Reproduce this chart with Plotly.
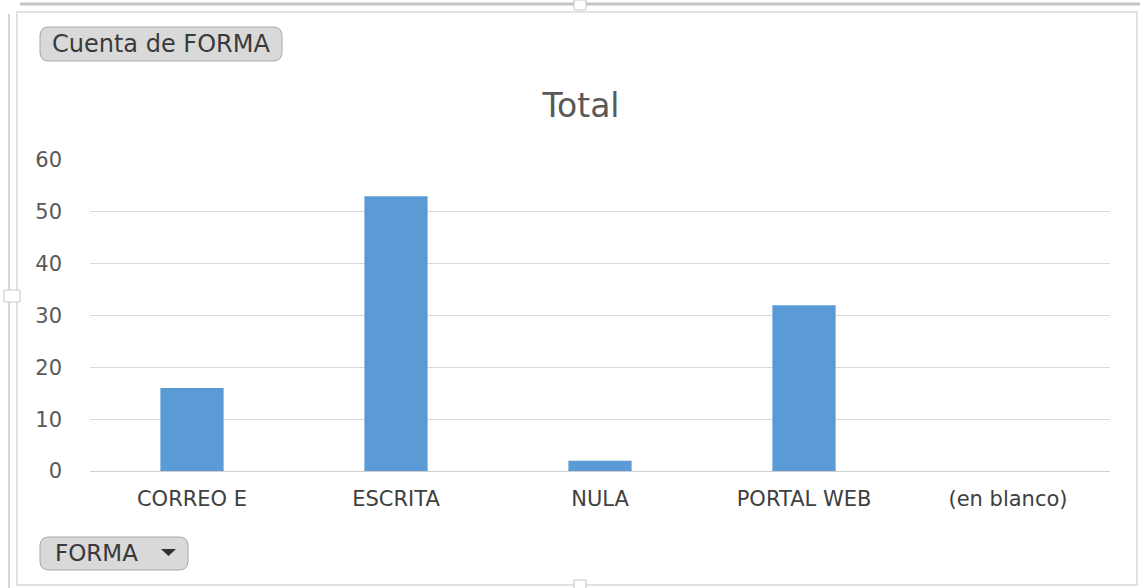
import plotly.graph_objects as go

categories = ["CORREO E", "ESCRITA", "NULA", "PORTAL WEB", "(en blanco)"]
counts = [16, 53, 2, 32, 0]
y_ticks = [0, 10, 20, 30, 40, 50, 60]

W, H = 1140, 588
L, R, T, B = 90, 30, 160, 117
PW, PH = W - L - R, H - T - B


def px(x):
    return (x - L) / PW


def py(y):
    return (H - B - y) / PH


def rrect(x0, y0, x1, y1, r):
    d = f"M {px(x0 + r)},{py(y0)} L {px(x1 - r)},{py(y0)} "
    d += f"Q {px(x1)},{py(y0)} {px(x1)},{py(y0 + r)} "
    d += f"L {px(x1)},{py(y1 - r)} Q {px(x1)},{py(y1)} {px(x1 - r)},{py(y1)} "
    d += f"L {px(x0 + r)},{py(y1)} Q {px(x0)},{py(y1)} {px(x0)},{py(y1 - r)} "
    d += f"L {px(x0)},{py(y0 + r)} Q {px(x0)},{py(y0)} {px(x0 + r)},{py(y0)} Z"
    return d


font_family = "DejaVu Sans, Verdana, sans-serif"

fig = go.Figure(
    go.Bar(
        x=categories,
        y=counts,
        marker=dict(color="#5b9bd5", line=dict(width=0)),
        width=0.31,
        hoverinfo="x+y",
    )
)

shapes = []
# outer frame lines
shapes.append(dict(type="line", xref="paper", yref="paper", x0=px(20), x1=px(1140), y0=py(4), y1=py(4),
                   line=dict(color="#c4c4c4", width=3), layer="above"))
shapes.append(dict(type="rect", xref="paper", yref="paper", x0=px(17), x1=px(1137), y0=py(12), y1=py(585),
                   line=dict(color="#d9d9d9", width=1.5), layer="below"))
shapes.append(dict(type="line", xref="paper", yref="paper", x0=px(9), x1=px(9), y0=py(14), y1=py(588),
                   line=dict(color="#c8c8c8", width=1.5), layer="above"))
# small handles
shapes.append(dict(type="rect", xref="paper", yref="paper", x0=px(574), x1=px(586), y0=py(0), y1=py(10),
                   line=dict(color="#c8c8c8", width=1), fillcolor="white"))
shapes.append(dict(type="rect", xref="paper", yref="paper", x0=px(574), x1=px(586), y0=py(580), y1=py(590),
                   line=dict(color="#c8c8c8", width=1), fillcolor="white"))
shapes.append(dict(type="rect", xref="paper", yref="paper", x0=px(4), x1=px(20), y0=py(290), y1=py(302),
                   line=dict(color="#c8c8c8", width=1), fillcolor="white"))
# buttons
shapes.append(dict(type="path", xref="paper", yref="paper", path=rrect(40, 27, 282, 61, 9),
                   line=dict(color="#a8a8a8", width=1), fillcolor="#d9d9d9"))
shapes.append(dict(type="path", xref="paper", yref="paper", path=rrect(40, 537, 188, 570, 9),
                   line=dict(color="#a8a8a8", width=1), fillcolor="#d9d9d9"))
# dropdown triangle
shapes.append(dict(type="path", xref="paper", yref="paper",
                   path=f"M {px(161)},{py(549)} L {px(176)},{py(549)} L {px(168.5)},{py(556)} Z",
                   line=dict(color="#303030", width=0), fillcolor="#303030"))

annotations = [
    dict(text="Cuenta de FORMA", xref="paper", yref="paper", x=px(161), y=py(44), showarrow=False,
         xanchor="center", yanchor="middle", font=dict(family=font_family, size=24, color="#3a3a3a")),
    dict(text="FORMA", xref="paper", yref="paper", x=px(96), y=py(553), showarrow=False,
         xanchor="center", yanchor="middle", font=dict(family=font_family, size=23, color="#3a3a3a")),
]

fig.update_layout(
    width=W,
    height=H,
    margin=dict(l=L, r=R, t=T, b=B, pad=0),
    paper_bgcolor="white",
    plot_bgcolor="white",
    showlegend=False,
    bargap=0.69,
    title=dict(text="Total", xref="container", x=581 / W, xanchor="center", y=1 - 105 / H, yanchor="middle",
               font=dict(family=font_family, size=33, color="#595959")),
    xaxis=dict(
        type="category",
        showgrid=False,
        showline=False,
        ticks="",
        tickfont=dict(family=font_family, size=21, color="#404040"),
        ticklabelstandoff=13,
        fixedrange=True,
    ),
    yaxis=dict(
        range=[0, 60],
        tickvals=y_ticks,
        showgrid=True,
        gridcolor="#d9d9d9",
        gridwidth=1,
        zeroline=True,
        zerolinecolor="#d0d0d0",
        zerolinewidth=1,
        showline=False,
        ticks="",
        tickfont=dict(family=font_family, size=21, color="#595959"),
        ticklabelstandoff=27,
        fixedrange=True,
    ),
    shapes=shapes,
    annotations=annotations,
)

fig.write_html("out.html", config={"displayModeBar": False},
               post_script="document.body.style.margin='0px';document.body.style.overflow='hidden';")
